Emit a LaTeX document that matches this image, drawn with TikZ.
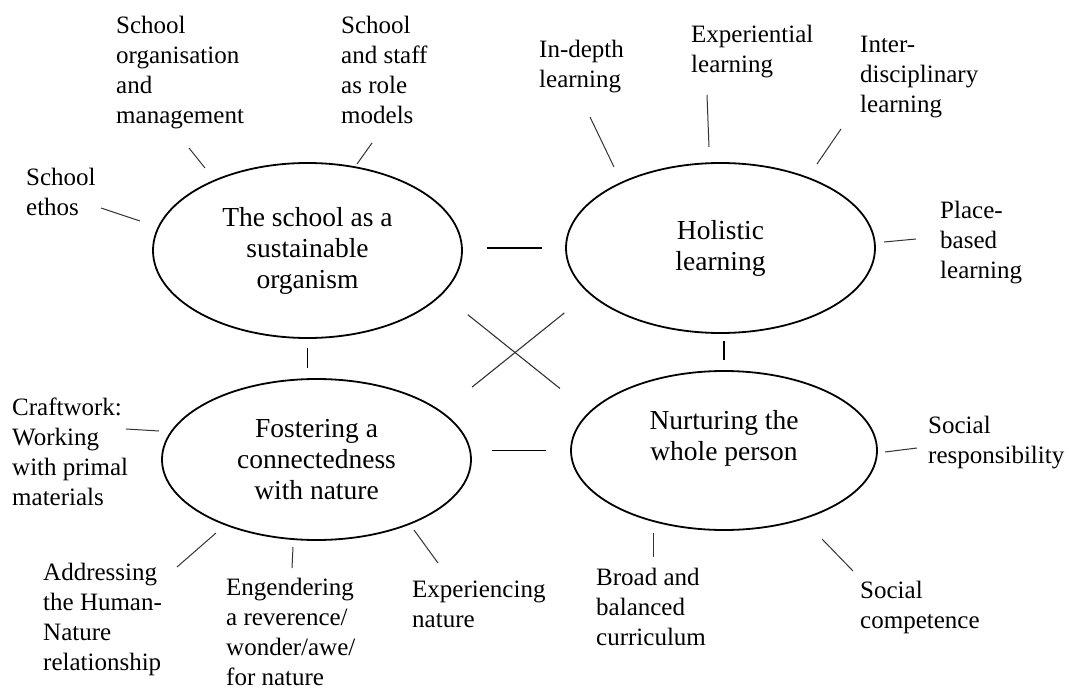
\documentclass[tikz,border=0pt]{standalone}
\usepackage{fontspec}
\setmainfont{Liberation Serif}
\usetikzlibrary{shapes.geometric}

\newcommand{\topicfont}{\fontsize{25}{30}\selectfont}
\newcommand{\hubfont}{\fontsize{27.5}{31}\selectfont}

\begin{document}
\begin{tikzpicture}[
  x=1pt, y=-1pt,
  hub/.style   = {ellipse, draw=black, line width=1.8pt, inner sep=0pt,
                  align=center, font=\hubfont},
  topic/.style = {anchor=north west, inner sep=0pt, align=left, font=\topicfont},
  spoke/.style = {draw=black!80, line width=1pt},
  link/.style  = {draw=black, line width=1.4pt},
  cross/.style = {draw=black!80, line width=1.1pt},
]
\useasboundingbox (0,0) rectangle (1069,690);

% ---- the four themes -------------------------------------------------
\node[hub, minimum width=309pt, minimum height=175pt] (school)    at (307.5,250.5)
  {The school as a\\sustainable\\organism};
\node[hub, minimum width=309pt, minimum height=170pt] (holistic)  at (720.5,248)
  {Holistic\\learning};
\node[hub, minimum width=309pt, minimum height=161pt] (fostering) at (316.5,459.5)
  {Fostering a\\connectedness\\with nature};
\node[hub, minimum width=306pt, minimum height=159pt] (nurturing) at (724,450.5)
  {Nurturing the\\whole person\\[-1pt]\mbox{}};

% ---- topics round the themes -----------------------------------------
\node[topic] (ethos)  at ( 26,168) {School\\ethos};
\node[topic] (org)    at (116, 16) {School\\organisation\\and\\management};
\node[topic] (role)   at (341, 16) {School\\and staff\\as role\\models};
\node[topic] (deep)   at (539, 40) {In-depth\\learning};
\node[topic] (exper)  at (691, 25) {Experiential\\learning};
\node[topic] (inter)  at (860, 36) {Inter-\\disciplinary\\learning};
\node[topic] (place)  at (940,201) {Place-\\based\\learning};
\node[topic] (craft)  at ( 12,398) {Craftwork:\\Working\\with primal\\materials};
\node[topic] (human)  at ( 43,563) {Addressing\\the Human-\\Nature\\relationship};
\node[topic] (awe)    at (226,578) {Engendering\\a reverence/\\wonder/awe/\\for nature};
\node[topic] (nature) at (412,581) {Experiencing\\nature};
\node[topic] (broad)  at (596,568) {Broad and\\balanced\\curriculum};
\node[topic] (resp)   at (928,416) {Social\\responsibility};
\node[topic] (comp)   at (860,581) {Social\\competence};

% ---- spoke ends ------------------------------------------------------
\coordinate (ethos-a)  at (101,208); \coordinate (ethos-b)  at (140,221);
\coordinate (org-a)    at (189,148); \coordinate (org-b)    at (205,168);
\coordinate (role-a)   at (372,143); \coordinate (role-b)   at (357,164);
\coordinate (deep-a)   at (590,117); \coordinate (deep-b)   at (614,167);
\coordinate (exper-a)  at (707, 95); \coordinate (exper-b)  at (709,147);
\coordinate (inter-a)  at (841,129); \coordinate (inter-b)  at (817,164);
\coordinate (place-a)  at (916,239); \coordinate (place-b)  at (884,242);
\coordinate (craft-a)  at (126,429); \coordinate (craft-b)  at (159,431);
\coordinate (human-a)  at (177,567); \coordinate (human-b)  at (216,533);
\coordinate (awe-a)    at (292,568); \coordinate (awe-b)    at (293,547);
\coordinate (nature-a) at (438,563); \coordinate (nature-b) at (414,530);
\coordinate (broad-a)  at (653,557); \coordinate (broad-b)  at (653,533);
\coordinate (resp-a)   at (917,448); \coordinate (resp-b)   at (885,452);
\coordinate (comp-a)   at (853,571); \coordinate (comp-b)   at (822,539);

\foreach \t in {ethos,org,role,deep,exper,inter,place,craft,human,awe,nature,broad,resp,comp}
  \draw[spoke] (\t-a) -- (\t-b);

% ---- links between the themes ----------------------------------------
\draw[link, shorten <=24pt, shorten >=23pt] (school.east |- holistic.west) -- (holistic.west);
\draw[link, shorten <=20pt, shorten >=24pt] (fostering.east |- nurturing.west) -- (nurturing.west);
\draw[link, line width=1.8pt, shorten <=9pt, shorten >=10pt] (school.south) -- (school.south |- fostering.north);
\draw[link, line width=1.8pt, shorten <=7pt, shorten >=10pt] (nurturing.north |- holistic.south) -- (nurturing.north);

% the cross in the middle
\draw[cross, shorten <=32.5pt, shorten >=37.3pt] (school.-18) -- (nurturing.164);
\draw[cross, shorten <=38.8pt, shorten >=31.1pt] (fostering.21) -- (holistic.199);

\end{tikzpicture}
\end{document}
